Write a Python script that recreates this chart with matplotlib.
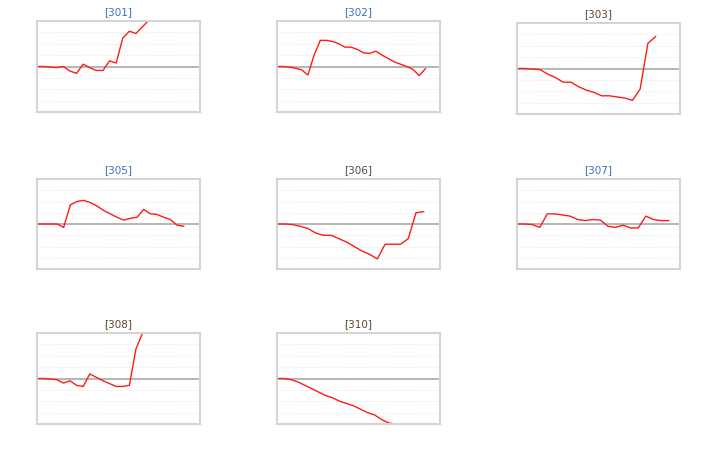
import matplotlib
matplotlib.use("Agg")
import matplotlib.pyplot as plt

W, H = 718, 463

titles = ["[301]", "[302]", "[303]", "[305]", "[306]", "[307]", "[308]", "[310]"]
title_colors = ["#3a6fc0", "#3a6fc0", "#5a4a2a", "#3a6fc0", "#4a4a4a", "#3a6fc0", "#5a4a2a", "#5a4a2a"]

s301 = [0, 0, -0.05, -0.1, 0, -0.4, -0.6, 0.2, -0.1, -0.35, -0.35, 0.5, 0.3, 2.5, 3.1, 2.9, 3.5, 4.1, 4.0, 4.2, 4.2, 4.2]
s302 = [0, 0, -0.05, -0.15, -0.3, -0.75, 1.0, 2.3, 2.3, 2.2, 2.0, 1.7, 1.7, 1.5, 1.2, 1.15, 1.35, 1.0, 0.7, 0.4, 0.2, 0, -0.25, -0.8, -0.2]
s303 = [0, 0, -0.05, -0.1, -0.5, -0.8, -1.2, -1.2, -1.6, -1.9, -2.1, -2.4, -2.4, -2.5, -2.6, -2.8, -1.8, 2.2, 2.8]
s305 = [0, 0, 0, 0, -0.3, 1.7, 2.0, 2.1, 1.9, 1.6, 1.2, 0.9, 0.6, 0.35, 0.5, 0.6, 1.3, 0.9, 0.85, 0.6, 0.4, -0.1, -0.2]
s306 = [0, 0, -0.05, -0.2, -0.4, -0.8, -1.0, -1.0, -1.3, -1.6, -2.0, -2.4, -2.7, -3.1, -1.8, -1.8, -1.8, -1.3, 1.0, 1.1]
s307 = [0, 0, -0.05, -0.3, 0.9, 0.9, 0.8, 0.7, 0.4, 0.3, 0.4, 0.35, -0.2, -0.3, -0.1, -0.35, -0.35, 0.7, 0.4, 0.3, 0.3]
s308 = [0, 0, -0.05, -0.1, -0.4, -0.2, -0.6, -0.7, 0.4, 0.1, -0.2, -0.45, -0.7, -0.7, -0.6, 2.6, 4.0, 4.0, 4.0, 4.0, 4.0, 4.0]
s310 = [0, 0, -0.1, -0.3, -0.6, -0.9, -1.2, -1.5, -1.7, -2.0, -2.2, -2.4, -2.7, -3.0, -3.2, -3.6, -3.9, -4, -4, -4, -4, -4, -4]
series = [s301, s302, s303, s305, s306, s307, s308, s310]
# fraction of the panel width covered by each line
coverage = [0.85, 0.91, 0.85, 0.9, 0.9, 0.93, 0.85, 0.94]

# panel boxes in pixels: (left, top, bottom)
cols = [37, 277, 517]
rows = [(21, 112), (179, 269), (333, 424)]
pw = 163

fig = plt.figure(figsize=(W / 100, H / 100), dpi=100)
for i, (title, tc, s, cov) in enumerate(zip(titles, title_colors, series, coverage)):
    r, c = divmod(i, 3)
    top, bot = rows[r]
    if i == 2:
        top, bot = 23, 114
    ax = fig.add_axes([cols[c] / W, 1 - bot / H, pw / W, (bot - top) / H])
    ax.set_xlim(0, (len(s) - 1) / cov)
    ax.set_ylim(-4, 4)
    for g in range(-3, 4):
        if g != 0:
            ax.axhline(g, color="#e4e4e4", lw=0.6, ls=(0, (1, 1.5)), zorder=0)
    ax.axhline(0, color="#b0b0b0", lw=1.3, zorder=1)
    ax.plot(range(len(s)), s, color="#ff1a1a", lw=1.0, zorder=2, clip_on=True)
    ax.set_xticks([])
    ax.set_yticks([])
    for sp in ax.spines.values():
        sp.set_color("#d4d4d4")
        sp.set_linewidth(1.5)
    ax.set_title(title, fontsize=7.5, color=tc, pad=4)

fig.savefig("out.png", dpi=100)
